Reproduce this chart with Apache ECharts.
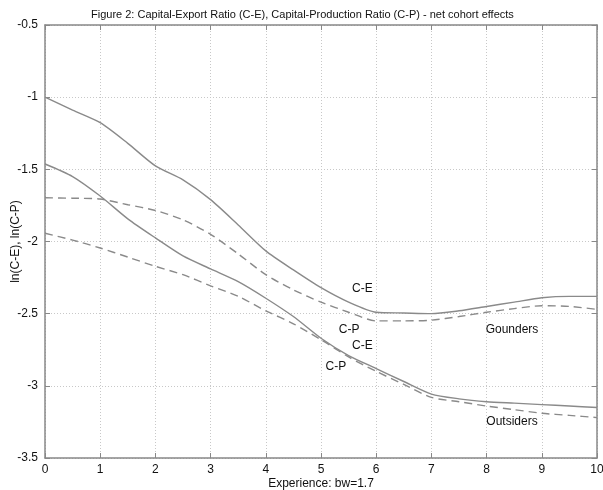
<!DOCTYPE html>
<html>
<head>
<meta charset="utf-8">
<script src="https://cdn.jsdelivr.net/npm/echarts@6/dist/echarts.min.js"></script>
<style>
    html, body { margin: 0; padding: 0; background: #fff; }
    #chart { width: 603px; height: 490px; }
</style>
</head>
<body>
<div id="chart"></div>
<script>
// experience (x), half steps
var experience = [0, 0.5, 1, 1.5, 2, 2.5, 3, 3.5, 4, 4.5, 5, 5.5, 6, 6.5, 7, 7.5, 8, 8.5, 9, 9.5, 10];

// Gounders
var goundersCE = [-1.00, -1.09, -1.177, -1.32, -1.476, -1.573, -1.71, -1.885, -2.065, -2.197, -2.32,
    -2.42, -2.49, -2.495, -2.50, -2.48, -2.45, -2.42, -2.39, -2.38, -2.38];
var goundersCP = [-1.697, -1.70, -1.706, -1.745, -1.785, -1.85, -1.95, -2.086, -2.23, -2.335, -2.42,
    -2.49, -2.55, -2.55, -2.545, -2.52, -2.49, -2.465, -2.445, -2.45, -2.47];

// Outsiders
var outsidersCE = [-1.463, -1.55, -1.685, -1.843, -1.975, -2.10, -2.19, -2.278, -2.393, -2.52, -2.67,
    -2.79, -2.88, -2.97, -3.057, -3.09, -3.11, -3.12, -3.13, -3.14, -3.15];
var outsidersCP = [-1.943, -1.99, -2.045, -2.108, -2.172, -2.23, -2.307, -2.38, -2.48, -2.57, -2.68,
    -2.80, -2.90, -2.99, -3.08, -3.11, -3.14, -3.165, -3.19, -3.205, -3.22];

// annotations: [text, x, y] in data units
var notes = [
    ['C-E', 5.75, -2.33],
    ['C-P', 5.51, -2.61],
    ['C-E', 5.75, -2.72],
    ['C-P', 5.27, -2.87],
    ['Gounders', 8.46, -2.61],
    ['Outsiders', 8.46, -3.25]
];

var FONT = 'Liberation Sans, Arial, sans-serif';
var LINE_COLOR = '#8a8a8a';

function pairs(ys) {
    return experience.map(function (x, i) { return [x, ys[i]]; });
}

function lineSeries(name, ys, dashed) {
    return {
        name: name,
        type: 'line',
        data: pairs(ys),
        showSymbol: false,
        smooth: 0.25,
        silent: true,
        lineStyle: {
            color: LINE_COLOR,
            width: 1.4,
            type: dashed ? [8, 5] : 'solid'
        }
    };
}

var chart = echarts.init(document.getElementById('chart'));

var gridLine = { show: true, lineStyle: { color: '#c8c8c8', type: [1, 2], width: 1 } };
var axisLine = { show: true, onZero: false, lineStyle: { color: '#888', width: 1.5 } };
var tick = { show: true, inside: true, length: 5, lineStyle: { color: '#888' } };
var label = { color: '#111', fontFamily: FONT, fontSize: 12 };

var option = {
    animation: false,
    title: {
        text: 'Figure 2: Capital-Export Ratio (C-E), Capital-Production Ratio (C-P) - net cohort effects',
        left: 86,
        top: 4,
        textStyle: { fontFamily: FONT, fontSize: 11, fontWeight: 'normal', color: '#111' }
    },
    grid: { left: 45, right: 6, top: 25, bottom: 32, outerBoundsMode: 'none', containLabel: false },
    xAxis: [{
        type: 'value', min: 0, max: 10, interval: 1,
        name: 'Experience: bw=1.7', nameLocation: 'middle', nameGap: 20, nameMoveOverlap: false,
        nameTextStyle: { fontFamily: FONT, fontSize: 12, color: '#111' },
        axisLine: axisLine, axisTick: tick, splitLine: gridLine,
        axisLabel: Object.assign({ margin: 6 }, label)
    }, {
        type: 'value', min: 0, max: 10, interval: 1, position: 'top',
        axisLine: axisLine, axisTick: tick, splitLine: { show: false },
        axisLabel: { show: false }
    }],
    yAxis: [{
        type: 'value', min: -3.5, max: -0.5, interval: 0.5,
        name: 'ln(C-E), ln(C-P)', nameLocation: 'middle', nameGap: 23, nameMoveOverlap: false,
        nameTextStyle: { fontFamily: FONT, fontSize: 12, color: '#111' },
        axisLine: axisLine, axisTick: tick, splitLine: gridLine,
        axisLabel: Object.assign({ margin: 7 }, label)
    }, {
        type: 'value', min: -3.5, max: -0.5, interval: 0.5, position: 'right',
        axisLine: axisLine, axisTick: tick, splitLine: { show: false },
        axisLabel: { show: false }
    }],
    series: [
        lineSeries('Gounders C-E', goundersCE, false),
        lineSeries('Gounders C-P', goundersCP, true),
        lineSeries('Outsiders C-E', outsidersCE, false),
        lineSeries('Outsiders C-P', outsidersCP, true)
    ]
};

chart.setOption(option);

// place the in-plot annotations through the chart's own scales
chart.setOption({
    graphic: notes.map(function (n) {
        var p = chart.convertToPixel({ gridIndex: 0 }, [n[1], n[2]]);
        return {
            type: 'text',
            x: p[0], y: p[1],
            silent: true,
            style: {
                text: n[0], fill: '#111', font: '12px ' + FONT,
                align: 'center', verticalAlign: 'middle'
            }
        };
    })
});
</script>
</body>
</html>
